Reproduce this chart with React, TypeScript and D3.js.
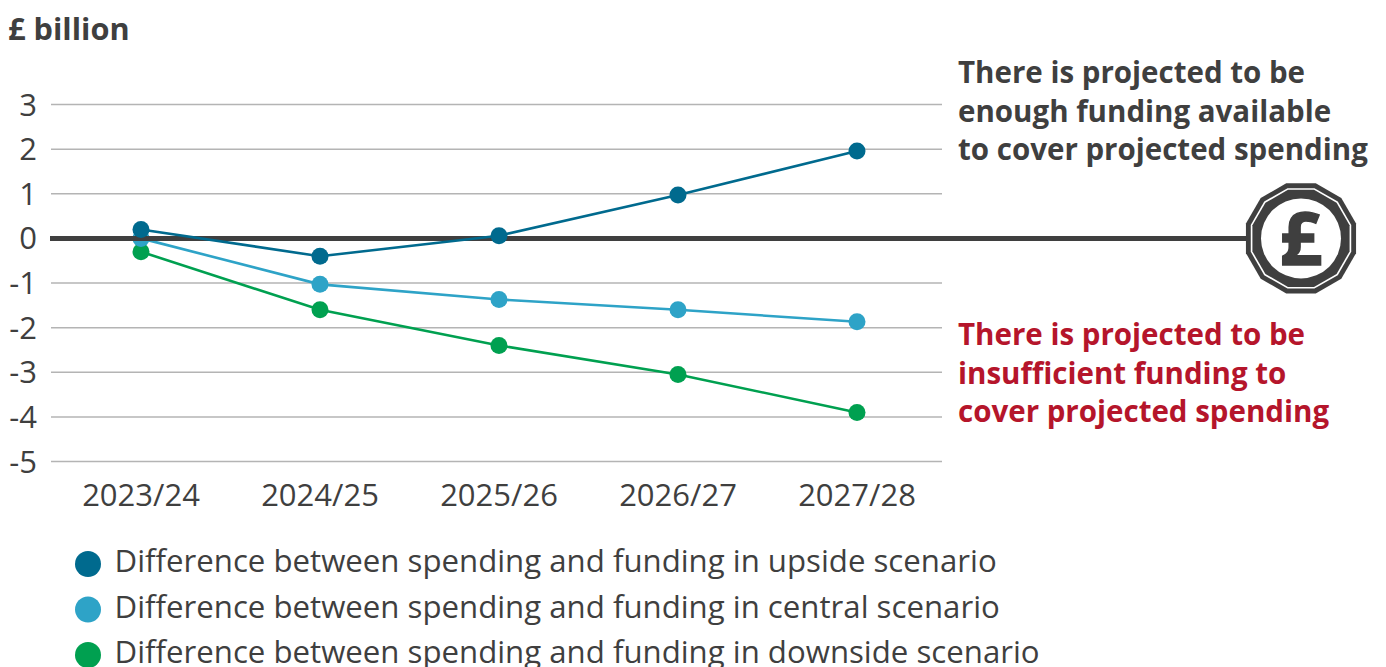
import React, { useEffect, useRef } from "react";
import * as d3 from "d3";

const years = ["2023/24", "2024/25", "2025/26", "2026/27", "2027/28"];
const yTicks = [3, 2, 1, 0, -1, -2, -3, -4, -5];
const upside = [0.2, -0.4, 0.06, 0.97, 1.96];
const central = [0, -1.03, -1.37, -1.6, -1.87];
const downside = [-0.3, -1.6, -2.4, -3.05, -3.9];
const seriesNames = [
  "Difference between spending and funding in upside scenario",
  "Difference between spending and funding in central scenario",
  "Difference between spending and funding in downside scenario",
];
const seriesColors = ["#006a8e", "#2ea3c7", "#00a050"];
const noteAbove = ["There is projected to be", "enough funding available", "to cover projected spending"];
const noteBelow = ["There is projected to be", "insufficient funding to", "cover projected spending"];

const FONT = "'Open Sans', 'Noto Sans', sans-serif";
const DARK = "#3f3f3f";

const App: React.FC = () => {
  const svgRef = useRef<SVGSVGElement>(null);

  useEffect(() => {
    const svg = d3.select(svgRef.current);
    svg.selectAll("*").remove();
    svg.attr("font-family", FONT);

    const x = d3.scalePoint<string>().domain(years).range([141, 857]);
    const y = d3.scaleLinear().domain([3, -5]).range([104.5, 461.5]);

    svg.append("text").text("£ billion").attr("x", 8).attr("y", 40)
      .attr("font-size", 30.7).attr("font-weight", 700).attr("fill", DARK);

    // grid and axis labels
    yTicks.forEach((t) => {
      svg.append("line").attr("x1", 51).attr("x2", 942).attr("y1", y(t)).attr("y2", y(t))
        .attr("stroke", "#b4b4b4").attr("stroke-width", 1.5);
      svg.append("text").text(String(t)).attr("x", 37).attr("y", y(t) + 11)
        .attr("text-anchor", "end").attr("font-size", 31).attr("fill", DARK);
    });
    years.forEach((d) => {
      svg.append("text").text(d).attr("x", x(d)!).attr("y", 505.5)
        .attr("text-anchor", "middle").attr("font-size", 31).attr("fill", DARK);
    });

    const line = d3.line<number>().x((_, i) => x(years[i])!).y((d) => y(d));
    const drawSeries = (values: number[], color: string) => {
      svg.append("path").attr("d", line(values)).attr("fill", "none")
        .attr("stroke", color).attr("stroke-width", 2.6);
      values.forEach((v, i) => {
        svg.append("circle").attr("cx", x(years[i])!).attr("cy", y(v)).attr("r", 8.5).attr("fill", color);
      });
    };

    drawSeries(downside, seriesColors[2]);
    drawSeries(central, seriesColors[1]);

    svg.append("line").attr("x1", 50).attr("x2", 1255).attr("y1", y(0)).attr("y2", y(0))
      .attr("stroke", DARK).attr("stroke-width", 5);

    drawSeries(upside, seriesColors[0]);

    // coin
    const coin = svg.append("g").attr("transform", `translate(1301,${y(0)})`);
    const polygon = (r: number) =>
      d3.range(12).map((i) => {
        const a = ((i + 0.5) * Math.PI * 2) / 12;
        return [r * Math.cos(a), r * Math.sin(a)].join(",");
      }).join(" ");
    coin.append("polygon").attr("points", polygon(57)).attr("fill", DARK);
    coin.append("polygon").attr("points", polygon(52)).attr("fill", "#fff");
    coin.append("polygon").attr("points", polygon(50.3)).attr("fill", DARK);
    coin.append("circle").attr("r", 40).attr("fill", "#fff");
    coin.append("text").text("£").attr("y", 27).attr("text-anchor", "middle")
      .attr("font-size", 74).attr("font-weight", 700).attr("fill", DARK)
      .attr("stroke", DARK).attr("stroke-width", 1.5);

    // notes
    noteAbove.forEach((t, i) => {
      svg.append("text").text(t).attr("x", 958).attr("y", 83 + i * 38.7)
        .attr("font-size", 29.5).attr("font-weight", 700).attr("fill", DARK);
    });
    noteBelow.forEach((t, i) => {
      svg.append("text").text(t).attr("x", 958).attr("y", 345 + i * 38.7)
        .attr("font-size", 29.5).attr("font-weight", 700).attr("fill", "#b5152b");
    });

    // legend
    const legendY = d3.scalePoint<string>().domain(seriesNames).range([564, 655]);
    seriesNames.forEach((n, i) => {
      svg.append("circle").attr("cx", 88).attr("cy", legendY(n)!).attr("r", 13).attr("fill", seriesColors[i]);
      svg.append("text").text(n).attr("x", 114.5).attr("y", legendY(n)! + 8)
        .attr("font-size", 31.2).attr("fill", DARK);
    });
  }, []);

  return (
    <svg ref={svgRef} width={1386} height={667}
      style={{ position: "absolute", left: 0, top: 0, background: "#fff" }} />
  );
};

export default App;
